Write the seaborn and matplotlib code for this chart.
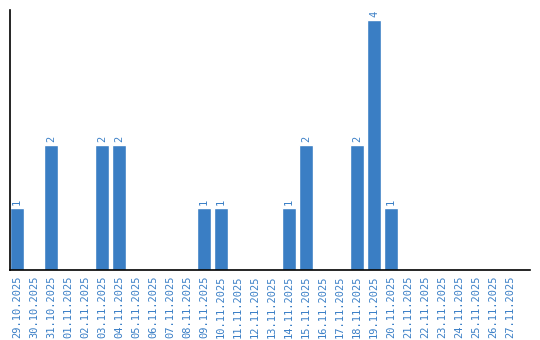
import matplotlib
matplotlib.use("Agg")
import matplotlib.pyplot as plt
import seaborn as sns
import pandas as pd

dates = ["29.10.2025", "30.10.2025", "31.10.2025", "01.11.2025", "02.11.2025",
         "03.11.2025", "04.11.2025", "05.11.2025", "06.11.2025", "07.11.2025",
         "08.11.2025", "09.11.2025", "10.11.2025", "11.11.2025", "12.11.2025",
         "13.11.2025", "14.11.2025", "15.11.2025", "16.11.2025", "17.11.2025",
         "18.11.2025", "19.11.2025", "20.11.2025", "21.11.2025", "22.11.2025",
         "23.11.2025", "24.11.2025", "25.11.2025", "26.11.2025", "27.11.2025"]
counts = [1, 0, 2, 0, 0, 2, 2, 0, 0, 0, 0, 1, 1, 0, 0, 0, 1, 2, 0, 0,
          2, 4, 1, 0, 0, 0, 0, 0, 0, 0]

BAR = "#3a7ec4"
TXT = "#3a7fc6"

sns.set_style("white")
plt.rcParams['font.family'] = ['DejaVu Sans Mono', 'DejaVu Sans']

df = pd.DataFrame({"date": dates, "count": counts})
fig = plt.figure(figsize=(5.4, 3.4), dpi=100)
ax = fig.add_axes([10/540, 70/340, 520/540, 260/340])
sns.barplot(data=df, x="date", y="count", color=BAR, saturation=1, width=0.82, ax=ax)

for p, v in zip(ax.patches, counts):
    if v > 0:
        ax.annotate(str(v), (p.get_x() + p.get_width() / 2, p.get_height()),
                    xytext=(0, 2), textcoords="offset points",
                    ha="center", va="bottom", rotation=90, fontsize=7.5, color=TXT)

ax.set_xlim(-0.41, 30.18)
ax.set_ylim(0, 4.16)
ax.set_xlabel("")
ax.set_ylabel("")
ax.set_yticks([])
ax.tick_params(axis="x", length=0, pad=4, labelsize=7.5, labelcolor=TXT)
plt.setp(ax.get_xticklabels(), rotation=90)
for s in ["top", "right"]:
    ax.spines[s].set_visible(False)
for s in ["left", "bottom"]:
    ax.spines[s].set_color("black")
    ax.spines[s].set_linewidth(1.2)

fig.savefig("out.png", dpi=100)
